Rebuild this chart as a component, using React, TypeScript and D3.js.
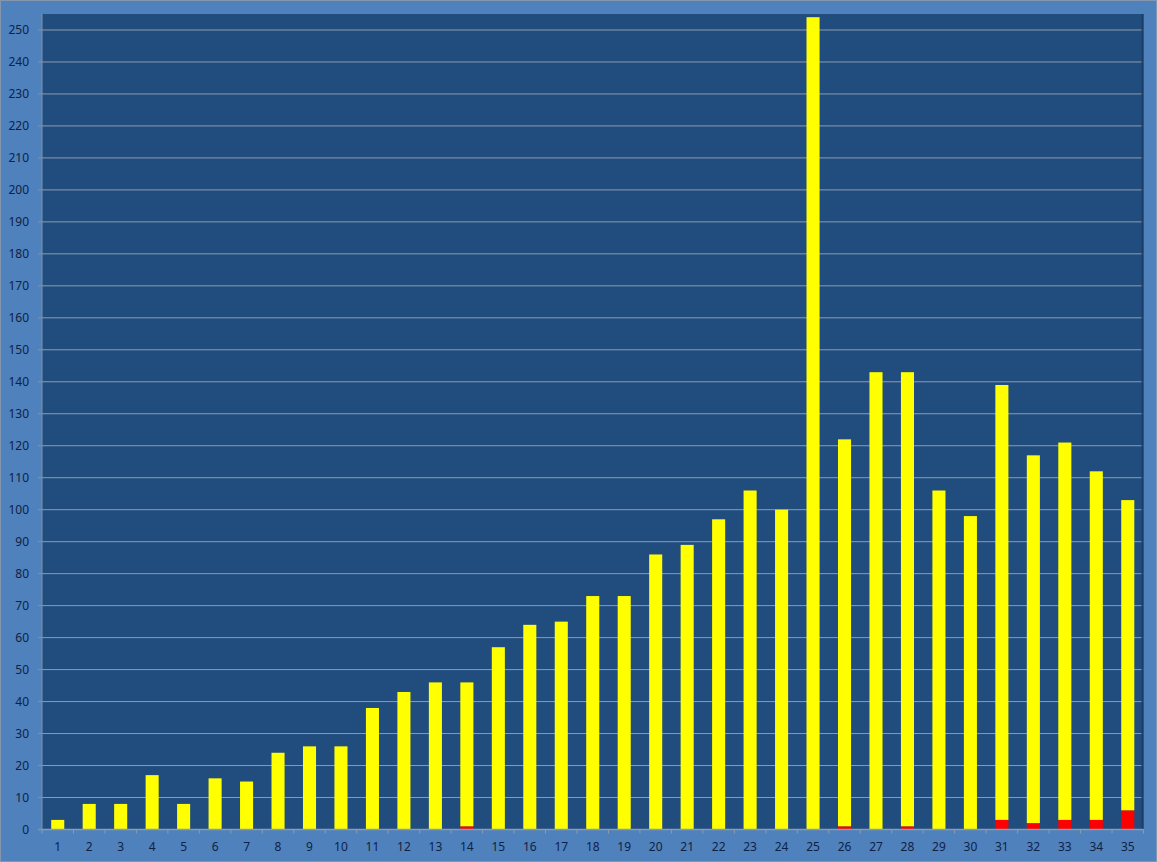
import React from "react";
import * as d3 from "d3";

// Category numbers along the x axis
const categories: number[] = Array.from({ length: 35 }, (_, i) => i + 1);

// Total bar heights per category
const totals: number[] = [
  3, 8, 8, 17, 8, 16, 15, 24, 26, 26, 38, 43, 46, 46, 57, 64, 65, 73, 73, 86,
  89, 97, 106, 100, 254, 122, 143, 143, 106, 98, 139, 117, 121, 112, 103,
];

// Red base segment per category
const redValues: number[] = [
  0, 0, 0, 0, 0, 0, 0, 0, 0, 0, 0, 0, 0, 1, 0, 0, 0, 0, 0, 0,
  0, 0, 0, 0, 0, 1, 0, 1, 0, 0, 3, 2, 3, 3, 6,
];

// Yellow segment stacked on top of the red one
const yellowValues: number[] = totals.map((t, i) => t - redValues[i]);

const yTicks: number[] = d3.range(0, 251, 10);

const W = 1157;
const H = 862;
const plot = { left: 42, top: 14, right: 1143.5, bottom: 829.5 };

export default function App() {
  const x = d3
    .scaleBand<number>()
    .domain(categories)
    .range([plot.left, plot.right])
    .paddingInner(0.585)
    .paddingOuter(0.2925);
  const y = d3.scaleLinear().domain([0, 255]).range([plot.bottom, plot.top]);

  const stackData = categories.map((c, i) => ({
    cat: c,
    red: redValues[i],
    yellow: yellowValues[i],
  }));
  const series = d3.stack<any>().keys(["red", "yellow"])(stackData);
  const colors: Record<string, string> = { red: "#FF0000", yellow: "#FFFF00" };

  const step = x.step();
  const labelFont = "'Noto Sans', 'Liberation Sans', sans-serif";

  return (
    <div style={{ position: "fixed", left: 0, top: 0 }}>
      <svg width={W} height={H} style={{ display: "block" }}>
        <rect x={0.5} y={0.5} width={W - 1} height={H - 1} fill="#4F81BD" stroke="#8496AE" strokeWidth={1} />
        <rect
          x={plot.left}
          y={plot.top}
          width={plot.right - plot.left}
          height={plot.bottom - plot.top}
          fill="#214C7E"
        />
        {/* horizontal gridlines */}
        {yTicks.filter((t) => t > 0).map((t) => (
          <line
            key={t}
            x1={plot.left}
            x2={plot.right}
            y1={y(t)}
            y2={y(t)}
            stroke="#8C9CAE"
            strokeWidth={1}
          />
        ))}
        {/* stacked bars */}
        {series.map((s) => (
          <g key={s.key} fill={colors[s.key]}>
            {s.map((d, i) =>
              d[1] - d[0] > 0 ? (
                <rect
                  key={i}
                  x={x(categories[i])!}
                  y={y(d[1])}
                  width={x.bandwidth()}
                  height={y(d[0]) - y(d[1])}
                />
              ) : null
            )}
          </g>
        ))}
        {/* plot frame shading on the right edge */}
        <line x1={plot.right - 1} x2={plot.right - 1} y1={plot.top} y2={plot.bottom} stroke="#1A3E68" strokeWidth={2} />
        {/* axes */}
        <line x1={plot.left} x2={plot.left} y1={plot.top} y2={plot.bottom} stroke="#7F93AC" strokeWidth={1} />
        <line x1={plot.left - 4} x2={plot.right} y1={plot.bottom} y2={plot.bottom} stroke="#8C9CAE" strokeWidth={1.5} />
        {categories.map((c, i) => (
          <line
            key={c}
            x1={plot.left + i * step}
            x2={plot.left + i * step}
            y1={plot.bottom}
            y2={plot.bottom + 4}
            stroke="#8C9CAE"
          />
        ))}
        <line x1={plot.right} x2={plot.right} y1={plot.bottom} y2={plot.bottom + 4} stroke="#8C9CAE" />
        {yTicks.map((t) => (
          <g key={t}>
            <line x1={plot.left - 4} x2={plot.left} y1={y(t)} y2={y(t)} stroke="#7F93AC" />
            <text
              x={29}
              y={y(t)}
              dy="0.35em"
              textAnchor="end"
              fontFamily={labelFont}
              fontSize={12}
              fill="#0F2145"
            >
              {t}
            </text>
          </g>
        ))}
        {categories.map((c) => (
          <text
            key={c}
            x={x(c)! + x.bandwidth() / 2}
            y={851}
            textAnchor="middle"
            fontFamily={labelFont}
            fontSize={12}
            fill="#0F2145"
          >
            {c}
          </text>
        ))}
      </svg>
    </div>
  );
}
